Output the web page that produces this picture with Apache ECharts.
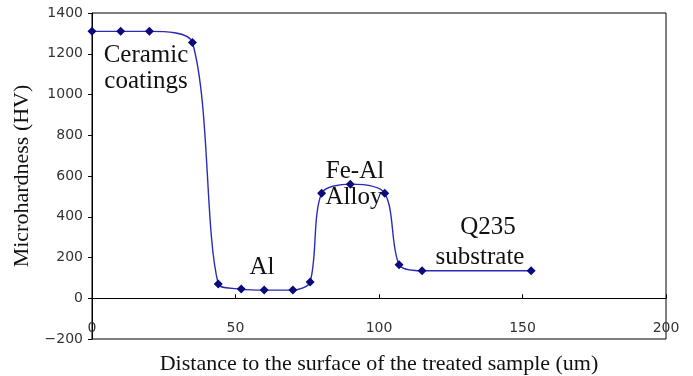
<!doctype html>
<html><head><meta charset="utf-8" />
<style>
  html,body,#app{margin:0;padding:0;width:693px;height:376px;background:#ffffff}
</style>
<script src="https://cdn.jsdelivr.net/npm/echarts@6.0.0/dist/echarts.min.js"></script>
</head><body><div id="app"></div>
<script>
// distance from surface (um) and microhardness (HV)
const distance = [0, 10, 20, 35, 44, 52, 60, 70, 76, 80, 90, 102, 107, 115, 153];
const hardness = [1310, 1310, 1310, 1255, 70, 45, 40, 40, 80, 515, 560, 515, 165, 135, 135];
const xTicks = { min: 0, max: 200, step: 50 };
const yTicks = { min: -200, max: 1400, step: 200 };
const regionLabels = ['Ceramic', 'coatings', 'Al', 'Fe-Al', 'Alloy', 'Q235', 'substrate'];

(function(){
  const serif = '"Liberation Serif", "Times New Roman", serif';
  const sans = '"DejaVu Sans", Arial, sans-serif';
  const chart = echarts.init(document.getElementById('app'));
  const labelPos = [[146, 55], [146, 81], [262, 267], [355, 171], [354, 197], [488, 227], [480, 257]];
  const option = {
    backgroundColor: '#ffffff',
    animation: false,
    grid: { left: 92, right: 27, top: 13, bottom: 37, show: true, borderColor: '#000', borderWidth: 1,
      containLabel: false, outerBoundsMode: 'none' },
    xAxis: {
      type: 'value', min: xTicks.min, max: xTicks.max, interval: xTicks.step,
      name: 'Distance to the surface of the treated sample (um)', nameLocation: 'middle', nameGap: 14,
      nameTextStyle: { fontFamily: serif, fontSize: 22, color: '#111' },
      axisLine: { onZero: true, lineStyle: { color: '#000', width: 1 } },
      axisTick: { inside: true, length: 4, lineStyle: { color: '#000' } },
      axisLabel: { margin: -18, fontFamily: sans, fontSize: 14, color: '#333', showMaxLabel: true, showMinLabel: true },
      splitLine: { show: false }
    },
    yAxis: {
      type: 'value', min: yTicks.min, max: yTicks.max, interval: yTicks.step,
      name: 'Microhardness (HV)', nameLocation: 'middle', nameGap: 56,
      nameTextStyle: { fontFamily: serif, fontSize: 22, color: '#111' },
      axisLine: { show: true, lineStyle: { color: '#000', width: 1 } },
      axisTick: { show: true, inside: false, length: 4, lineStyle: { color: '#000' } },
      axisLabel: { margin: 9, fontFamily: sans, fontSize: 14, color: '#333',
        formatter: v => String(v).replace('-', '\u2212') },
      splitLine: { show: false }
    },
    series: [{
      type: 'line',
      data: distance.map((d, i) => [d, hardness[i]]),
      smooth: 0.3,
      symbol: 'diamond', symbolSize: 9,
      itemStyle: { color: '#0a0a7a' },
      lineStyle: { color: '#2a2ab5', width: 1.4 }
    }],
    graphic: regionLabels.map((t, i) => ({
      type: 'text', x: labelPos[i][0], y: labelPos[i][1],
      style: { text: t, font: '25px ' + serif, fill: '#111', align: 'center', verticalAlign: 'middle' }
    }))
  };
  chart.setOption(option);
})();
</script></body></html>
